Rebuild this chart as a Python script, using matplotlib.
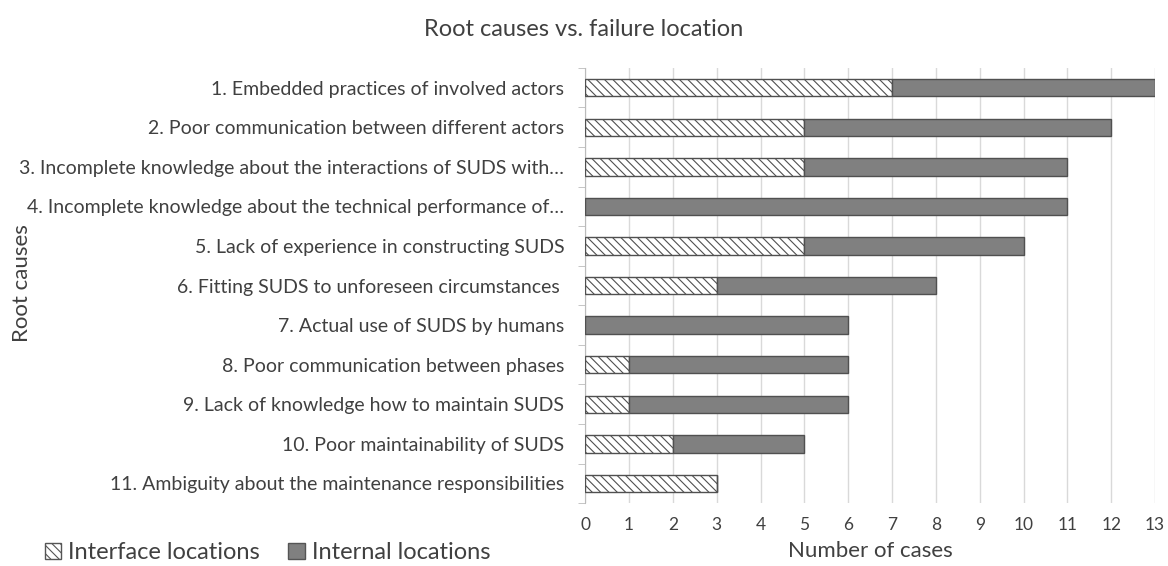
import matplotlib
matplotlib.use("Agg")
import matplotlib.pyplot as plt
import matplotlib.patches as mpatches
import numpy as np

plt.rcParams['font.family'] = ['Lato', 'DejaVu Sans']
plt.rcParams['hatch.linewidth'] = 0.8
plt.rcParams['hatch.color'] = '#555555'

categories = [
    "1. Embedded practices of involved actors",
    "2. Poor communication between different actors",
    "3. Incomplete knowledge about the interactions of SUDS with\u2026",
    "4. Incomplete knowledge about the technical performance of\u2026",
    "5. Lack of experience in constructing SUDS",
    "6. Fitting SUDS to unforeseen circumstances ",
    "7. Actual use of SUDS by humans",
    "8. Poor communication between phases",
    "9. Lack of knowledge how to maintain SUDS",
    "10. Poor maintainability of SUDS",
    "11. Ambiguity about the maintenance responsibilities",
]
interface = [7, 5, 5, 0, 5, 3, 0, 1, 1, 2, 3]
internal = [6, 7, 6, 11, 5, 5, 6, 5, 5, 3, 0]
xticks = list(range(0, 14))

txt = '#404040'
fig = plt.figure(figsize=(11.68, 5.66), dpi=100)
ax = fig.add_axes([0.501, 0.111, 0.488, 0.769])

y = np.arange(len(categories))
ax.barh(y, interface, height=0.44, color='white', edgecolor='#505050',
        hatch='\\\\\\\\', linewidth=1.0, zorder=3, label='Interface locations')
ax.barh(y, internal, left=interface, height=0.44, color='#808080',
        edgecolor='#505050', linewidth=1.0, zorder=3, label='Internal locations')

ax.set_ylim(len(categories) - 0.5, -0.5)
ax.set_xlim(0, 13)
ax.set_yticks(y)
ax.set_yticklabels(categories, fontsize=14, color=txt)
ax.set_yticks(np.arange(-0.5, len(categories), 1), minor=True)
ax.tick_params(axis='y', which='major', length=0, pad=15)
ax.tick_params(axis='y', which='minor', length=5, color='#bbbbbb', direction='out', pad=0)
ax.set_xticks(xticks)
ax.set_xticklabels([str(v) for v in xticks], fontsize=12.5, color=txt)
ax.tick_params(axis='x', length=0, pad=10)
ax.grid(axis='x', color='#d9d9d9', linewidth=1.0, zorder=0)
for s in ['top', 'right', 'bottom']:
    ax.spines[s].set_visible(False)
ax.spines['left'].set_color('#bbbbbb')

ax.set_xlabel('Number of cases', fontsize=16, color=txt, labelpad=6)
fig.text(0.019, 0.5, 'Root causes', rotation=90, fontsize=16, color=txt,
         va='center', ha='center')
fig.text(0.5, 0.948, 'Root causes vs. failure location', fontsize=17, color=txt,
         ha='center', va='center')

h1 = mpatches.Patch(facecolor='white', edgecolor='#555555', hatch='\\\\\\\\', label='Interface locations')
h2 = mpatches.Patch(facecolor='#808080', edgecolor='#555555', label='Internal locations')
fig.legend(handles=[h1, h2], loc='center left', bbox_to_anchor=(0.02, 0.023),
           ncol=2, frameon=False, fontsize=17, handlelength=0.7, handleheight=0.7,
           handletextpad=0.3, columnspacing=1.2, labelcolor=txt)

fig.savefig('out.png', dpi=100)
